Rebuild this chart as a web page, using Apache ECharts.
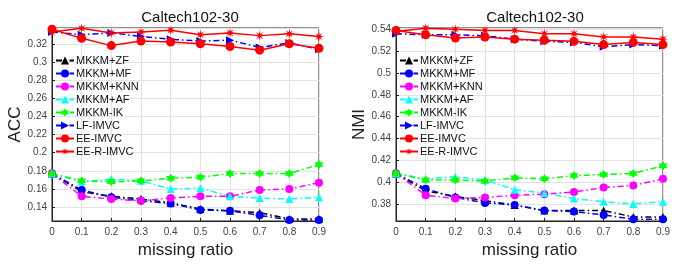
<!DOCTYPE html>
<html>
<head>
    <meta charset="utf-8">
    <title>Caltech102-30</title>
    <script src="https://cdn.jsdelivr.net/npm/echarts@6/dist/echarts.min.js"></script>
    <style>
        html, body { margin: 0; padding: 0; background: #fff; }
    </style>
</head>
<body>
<div id="main" style="width: 678px;height:264px;"></div>
<script>
// missing ratio on the x axis
var ratios = [0, 0.1, 0.2, 0.3, 0.4, 0.5, 0.6, 0.7, 0.8, 0.9];
var methods = ['MKKM+ZF', 'MKKM+MF', 'MKKM+KNN', 'MKKM+AF', 'MKKM-IK', 'LF-IMVC', 'EE-IMVC', 'EE-R-IMVC'];

// ACC (left plot)
var accZF   = [0.177, 0.157, 0.152, 0.149, 0.145, 0.138, 0.136, 0.134, 0.127, 0.127];
var accMF   = [0.177, 0.159, 0.151, 0.147, 0.144, 0.137, 0.136, 0.131, 0.126, 0.126];
var accKNN  = [0.177, 0.152, 0.149, 0.147, 0.150, 0.152, 0.152, 0.159, 0.160, 0.167];
var accAF   = [0.177, 0.168, 0.171, 0.169, 0.160, 0.161, 0.152, 0.150, 0.149, 0.151];
var accIK   = [0.177, 0.169, 0.168, 0.169, 0.172, 0.173, 0.177, 0.177, 0.177, 0.187];
var accLF   = [0.333, 0.330, 0.332, 0.328, 0.325, 0.323, 0.324, 0.316, 0.321, 0.314];
var accEE   = [0.336, 0.326, 0.318, 0.323, 0.322, 0.320, 0.317, 0.313, 0.320, 0.315];
var accEER  = [0.333, 0.337, 0.332, 0.333, 0.335, 0.330, 0.332, 0.329, 0.331, 0.328];

// NMI (right plot)
var nmiZF   = [0.408, 0.392, 0.387, 0.383, 0.379, 0.374, 0.374, 0.374, 0.368, 0.368];
var nmiMF   = [0.408, 0.394, 0.386, 0.381, 0.379, 0.374, 0.373, 0.370, 0.366, 0.366];
var nmiKNN  = [0.408, 0.388, 0.385, 0.386, 0.388, 0.389, 0.391, 0.395, 0.397, 0.403];
var nmiAF   = [0.408, 0.403, 0.405, 0.402, 0.393, 0.390, 0.385, 0.382, 0.380, 0.382];
var nmiIK   = [0.408, 0.402, 0.402, 0.401, 0.404, 0.403, 0.406, 0.407, 0.408, 0.415];
var nmiLF   = [0.536, 0.535, 0.535, 0.534, 0.531, 0.529, 0.528, 0.524, 0.526, 0.525];
var nmiEE   = [0.539, 0.535, 0.532, 0.533, 0.531, 0.530, 0.529, 0.526, 0.528, 0.526];
var nmiEER  = [0.538, 0.541, 0.540, 0.539, 0.539, 0.536, 0.536, 0.533, 0.533, 0.531];

var accData = [accZF, accMF, accKNN, accAF, accIK, accLF, accEE, accEER];
var nmiData = [nmiZF, nmiMF, nmiKNN, nmiAF, nmiIK, nmiLF, nmiEE, nmiEER];

// marker shapes
var rightTri = 'path://M0,0L10,5L0,10Z';
var hexagram = 'path://M10,0L12.89,5L18.66,5L15.77,10L18.66,15L12.89,15L10,20L7.11,15L1.34,15L4.23,10L1.34,5L7.11,5Z';
var asterisk = 'path://M10,0L11.34,6.77L17.07,2.93L13.23,8.66L20,10L13.23,11.34L17.07,17.07L11.34,13.23L10,20L8.66,13.23L2.93,17.07L6.77,11.34L0,10L6.77,8.66L2.93,2.93L8.66,6.77Z';

var dashDot = [6, 3, 1.5, 3];
var styles = [
    {color: '#000000', symbol: 'triangle', size: 8, dash: dashDot},
    {color: '#0000ff', symbol: 'circle', size: 8, dash: dashDot},
    {color: '#ff00ff', symbol: 'circle', size: 8, dash: dashDot},
    {color: '#00ffff', symbol: 'triangle', size: 8, dash: dashDot},
    {color: '#00ff00', symbol: hexagram, size: 9, dash: dashDot},
    {color: '#0000ff', symbol: rightTri, size: 8, dash: dashDot},
    {color: '#ff0000', symbol: 'circle', size: 9, dash: 'solid'},
    {color: '#ff0000', symbol: asterisk, size: 10, dash: 'solid'}
];

var font = 'Liberation Sans, Arial, sans-serif';

function makeSeries(values, idx) {
    var out = [];
    for (var i = 0; i < methods.length; i++) {
        var st = styles[i];
        out.push({
            name: methods[i],
            type: 'line',
            xAxisIndex: idx,
            yAxisIndex: idx,
            data: ratios.map(function (r, k) { return [r, values[i][k]]; }),
            symbol: st.symbol,
            symbolSize: st.size,
            itemStyle: {color: st.color},
            lineStyle: {color: st.color, width: 1.5, type: st.dash},
            silent: true
        });
    }
    return out;
}

function xAxis(idx) {
    return {
        type: 'value', gridIndex: idx, min: 0, max: 0.9, interval: 0.1,
        name: 'missing ratio', nameLocation: 'middle', nameGap: 21,
        nameTextStyle: {fontSize: 17, color: '#222', fontFamily: font},
        axisLine: {lineStyle: {color: '#222', width: 1}},
        axisTick: {inside: true, length: 3, lineStyle: {color: '#222'}},
        axisLabel: {fontSize: 10, color: '#444', margin: 6, fontFamily: font},
        splitLine: {show: true, lineStyle: {color: '#e3e3e3', width: 1}}
    };
}

function yAxis(idx, name, min, max, split) {
    return {
        type: 'value', gridIndex: idx, min: min, max: max, splitNumber: split,
        name: name, nameLocation: 'middle', nameGap: 20,
        nameTextStyle: {fontSize: 17, color: '#222', fontFamily: font},
        axisLine: {show: true, lineStyle: {color: '#222', width: 1}},
        axisTick: {show: true, inside: true, length: 3, lineStyle: {color: '#222'}},
        axisLabel: {fontSize: 10, color: '#444', margin: 5, fontFamily: font,
            showMinLabel: false, showMaxLabel: false},
        splitLine: {show: true, lineStyle: {color: '#e3e3e3', width: 1}}
    };
}

function legend(left) {
    return {
        data: methods, orient: 'vertical', left: left, top: 50,
        itemWidth: 18, itemHeight: 10, itemGap: 2,
        textStyle: {fontSize: 11, color: '#111', fontFamily: font, padding: [0, 0, 0, -3]},
        selectedMode: false
    };
}

var option = {
    animation: false,
    backgroundColor: '#fff',
    title: [
        {text: 'Caltech102-30', left: 185, top: 5, textAlign: 'center',
            textStyle: {fontSize: 15, fontWeight: 'normal', color: '#111', fontFamily: font}},
        {text: 'Caltech102-30', left: 530, top: 5, textAlign: 'center',
            textStyle: {fontSize: 15, fontWeight: 'normal', color: '#111', fontFamily: font}}
    ],
    legend: [legend(50), legend(394)],
    grid: [
        {left: 52, top: 28, width: 267, height: 196, show: true, borderColor: '#222', borderWidth: 1},
        {left: 396, top: 28, width: 267, height: 196, show: true, borderColor: '#222', borderWidth: 1}
    ],
    xAxis: [xAxis(0), xAxis(1)],
    yAxis: [
        yAxis(0, 'ACC', 0.1248, 0.3374, 10),
        yAxis(1, 'NMI', 0.3644, 0.5412, 9)
    ],
    series: makeSeries(accData, 0).concat(makeSeries(nmiData, 1))
};

var myChart = echarts.init(document.getElementById('main'));
myChart.setOption(option);
</script>
</body>
</html>
